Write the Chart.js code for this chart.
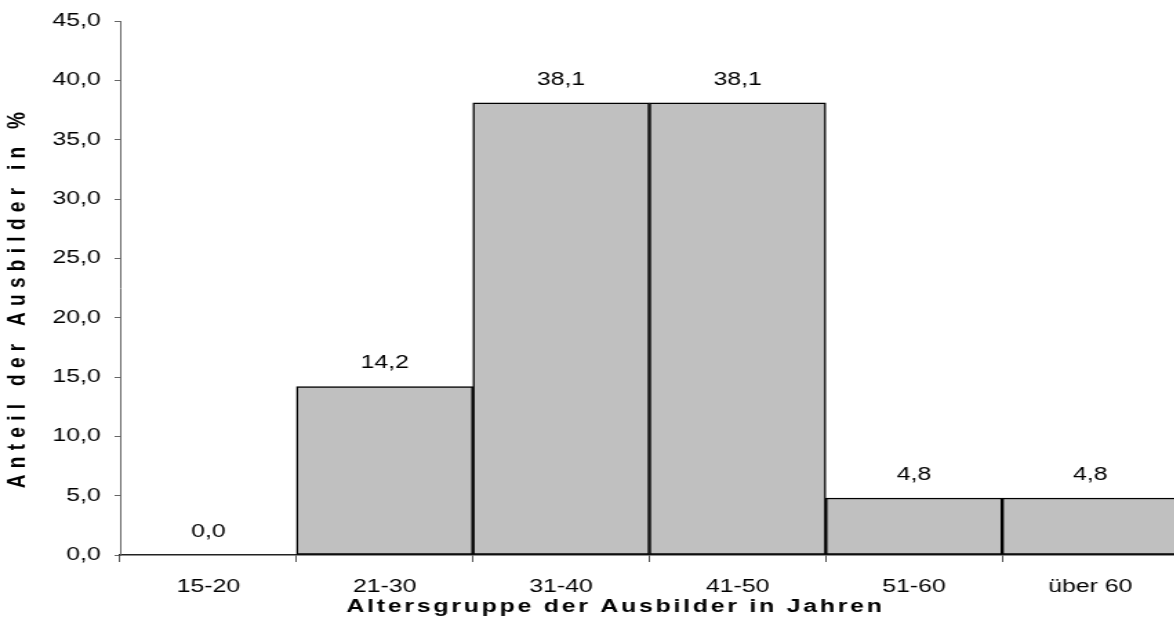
<!DOCTYPE html>
<html><head><meta charset="utf-8">
<script src="https://cdn.jsdelivr.net/npm/chart.js@4/dist/chart.umd.min.js"></script>
<style>html,body{margin:0;padding:0;background:#fff;overflow:hidden;width:1174px;height:637px}canvas{display:block}</style>
</head><body>
<canvas id="c" width="855" height="637" style="width:1180px;height:637px"></canvas>
<script>
const categories = ['15-20', '21-30', '31-40', '41-50', '51-60', 'über 60'];
const shares = [0.0, 14.2, 38.1, 38.1, 4.8, 4.8];
const yMin = 0, yMax = 45, yStep = 5;
const xTitle = 'Altersgruppe der Ausbilder in Jahren';
const yTitle = 'Anteil der Ausbilder in %';

const FONT = '"Liberation Sans", Arial, sans-serif';
const fmt = v => v.toFixed(1).replace('.', ',');

const labelsPlugin = {
  id: 'valueLabels',
  afterDatasetsDraw(chart) {
    const ctx = chart.ctx;
    const meta = chart.getDatasetMeta(0);
    ctx.save();
    ctx.font = '18px ' + FONT;
    ctx.fillStyle = '#000';
    ctx.textAlign = 'center';
    ctx.textBaseline = 'middle';
    meta.data.forEach((bar, i) => {
      ctx.fillText(fmt(shares[i]), bar.x, bar.y - 23);
    });
    ctx.restore();
  }
};

const titlesPlugin = {
  id: 'axisTitles',
  afterDraw(chart) {
    const ctx = chart.ctx;
    ctx.save();
    ctx.fillStyle = '#000';
    ctx.font = 'bold 18px ' + FONT;
    ctx.textAlign = 'center';
    ctx.textBaseline = 'middle';
    ctx.letterSpacing = '2px';
    ctx.fillText(xTitle, 445 + 1, 607);
    ctx.translate(13, 300);
    ctx.rotate(-Math.PI / 2);
    ctx.font = 'bold 19px ' + FONT;
    ctx.letterSpacing = '6.3px';
    ctx.fillText(yTitle, 3, 0);
    ctx.restore();
  }
};

new Chart(document.getElementById('c'), {
  type: 'bar',
  data: {
    labels: categories,
    datasets: [{
      data: shares,
      backgroundColor: '#c0c0c0',
      borderColor: '#000',
      borderWidth: 1.5,
      borderSkipped: false,
      categoryPercentage: 1.0,
      barPercentage: 1.0
    }]
  },
  options: {
    responsive: false,
    animation: false,
    devicePixelRatio: 1,
    layout: { padding: { top: 21, right: 1, left: 0, bottom: 0 } },
    plugins: { legend: { display: false }, tooltip: { enabled: false } },
    scales: {
      x: {
        offset: true,
        grid: { display: true, offset: true, drawOnChartArea: false, tickLength: 7, color: '#555', lineWidth: 1 },
        border: { display: true, color: '#222', width: 1.5 },
        ticks: { color: '#000', font: { family: FONT, size: 18 }, padding: 14, maxRotation: 0 },
        afterFit(scale) { scale.height = 82; }
      },
      y: {
        min: yMin, max: yMax,
        grid: { display: true, drawOnChartArea: false, tickLength: 4, color: '#666', lineWidth: 1 },
        border: { display: true, color: '#666', width: 1 },
        ticks: { stepSize: yStep, color: '#000', font: { family: FONT, size: 18 }, padding: 10, callback: v => fmt(v) },
        afterFit(scale) { scale.width = 87; }
      }
    }
  },
  plugins: [labelsPlugin, titlesPlugin]
});
</script>
</body></html>
